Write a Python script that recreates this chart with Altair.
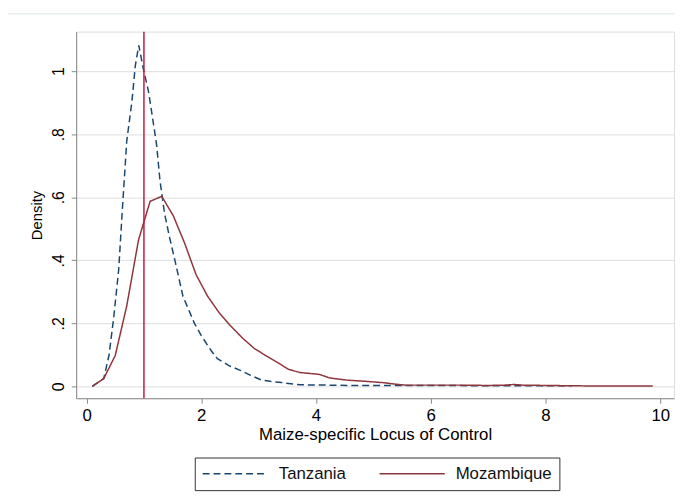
import altair as alt
import pandas as pd

# Tanzania kernel density
tz_x = [0.10, 0.30, 0.39, 0.47, 0.56, 0.62, 0.70, 0.79, 0.85, 0.91, 0.99, 1.08,
        1.16, 1.22, 1.28, 1.36, 1.45, 1.54, 1.68, 1.88, 2.00, 2.17, 2.28, 2.48,
        2.68, 2.86, 3.05, 3.20, 3.40, 3.72, 4.2, 4.6, 5.0, 6.0, 7.0, 8.0, 8.46]
tz_y = [0.0, 0.025, 0.098, 0.213, 0.37, 0.55, 0.777, 0.903, 1.018, 1.082, 1.007, 0.935,
        0.84, 0.768, 0.652, 0.548, 0.47, 0.40, 0.286, 0.20, 0.161, 0.114, 0.088, 0.066,
        0.051, 0.035, 0.02, 0.016, 0.012, 0.005, 0.004, 0.003, 0.003, 0.003, 0.002, 0.002, 0.002]

# Mozambique kernel density
mz_x = [0.10, 0.30, 0.50, 0.70, 0.905, 1.107, 1.31, 1.51, 1.71, 1.91, 2.11, 2.31,
        2.51, 2.72, 2.92, 3.12, 3.32, 3.52, 3.72, 4.06, 4.23, 4.53, 4.87, 5.16,
        5.39, 5.56, 6.0, 6.5, 7.0, 7.28, 7.45, 7.6, 8.0, 8.46, 9.0, 9.87]
mz_y = [0.0, 0.025, 0.098, 0.255, 0.464, 0.587, 0.603, 0.542, 0.454, 0.354, 0.286, 0.234,
        0.192, 0.153, 0.121, 0.098, 0.077, 0.054, 0.044, 0.038, 0.027, 0.02, 0.016, 0.012,
        0.007, 0.004, 0.004, 0.004, 0.003, 0.004, 0.006, 0.004, 0.003, 0.002, 0.001, 0.001]

countries = ["Tanzania", "Mozambique"]
line_colors = ["#1a476f", "#90353b"]
ref_x = [1.0]
x_ticks = [0, 2, 4, 6, 8, 10]
y_ticks = [0, 0.2, 0.4, 0.6, 0.8, 1.0]

df = pd.concat([
    pd.DataFrame({"x": tz_x, "y": tz_y, "country": "Tanzania"}),
    pd.DataFrame({"x": mz_x, "y": mz_y, "country": "Mozambique"}),
])
ref_df = pd.DataFrame({"x": ref_x})

FONT = "Liberation Sans"

xscale = alt.Scale(domain=[-0.181, 10.24], nice=False, zero=False)
yscale = alt.Scale(domain=[-0.0376, 1.1254], nice=False, zero=False)

legend = alt.Legend(
    orient="none", legendX=120, legendY=431, direction="horizontal",
    symbolType="stroke", symbolSize=4356, symbolStrokeWidth=1.5, clipHeight=19,
    labelFontSize=17, labelFont=FONT, labelColor="#111",
    strokeColor="#333", fillColor="white", padding=7,
    columnPadding=32, labelOffset=10, title=None,
)

lines = alt.Chart(df).mark_line(strokeWidth=1.5).encode(
    x=alt.X("x:Q", scale=xscale,
            axis=alt.Axis(values=x_ticks, format="d", title="Maize-specific Locus of Control",
                          grid=False, labelFlush=False, labelFontSize=17,
                          titleFontSize=17, titleFontWeight="normal",
                          labelPadding=5, titlePadding=3)),
    y=alt.Y("y:Q", scale=yscale,
            axis=alt.Axis(values=y_ticks, title="Density", grid=True,
                          labelExpr="datum.value == 0 ? '0' : datum.value == 1 ? '1' : replace(format(datum.value, '.1f'), '0.', '.')",
                          labelAngle=270, labelAlign="center", labelBaseline="bottom",
                          labelFontSize=16, titleFontSize=15, titleFontWeight="normal",
                          labelPadding=5, titlePadding=6)),
    color=alt.Color("country:N", scale=alt.Scale(domain=countries, range=line_colors),
                    legend=legend),
    strokeDash=alt.StrokeDash("country:N",
                              scale=alt.Scale(domain=countries, range=[[7, 4], [1, 0]]),
                              legend=legend),
)

rule = alt.Chart(ref_df).mark_rule(color="#c4173f", strokeWidth=1.5).encode(
    x=alt.X("x:Q", scale=xscale)
)

# light outer frame line of the graph region (decorative)
frame = alt.Chart(ref_df).mark_rule(color="#e6eef0", strokeWidth=1.5).encode(
    x=alt.value(-69), x2=alt.value(606), y=alt.value(-18)
)

chart = alt.layer(lines, rule, frame).properties(
    width=605, height=371,
    autosize=alt.AutoSizeParams(type="none"),
    padding={"left": 69, "top": 21, "right": 1, "bottom": 96},
).configure_view(stroke=None).configure_axis(
    labelFont=FONT, titleFont=FONT, labelColor="#111", titleColor="#111",
    domainColor="#333", tickColor="#555", tickSize=5, domainWidth=1,
    gridColor="#e6eef0", gridWidth=1.2,
).configure(background="white")

chart.save("out.html", embed_options={"renderer": "svg", "actions": False})
